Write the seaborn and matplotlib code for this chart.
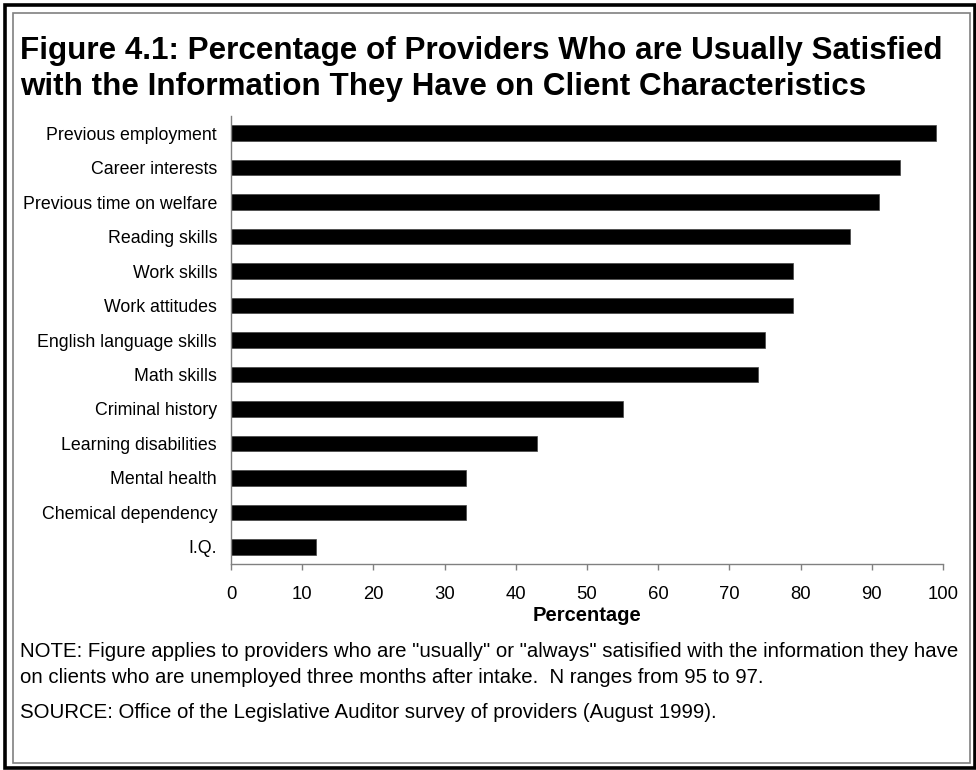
import matplotlib
matplotlib.use("Agg")
import matplotlib.pyplot as plt
import seaborn as sns
import pandas as pd
from matplotlib.patches import Rectangle

categories = [
    "Previous employment",
    "Career interests",
    "Previous time on welfare",
    "Reading skills",
    "Work skills",
    "Work attitudes",
    "English language skills",
    "Math skills",
    "Criminal history",
    "Learning disabilities",
    "Mental health",
    "Chemical dependency",
    "I.Q.",
]
values = [99, 94, 91, 87, 79, 79, 75, 74, 55, 43, 33, 33, 12]
xticks = [0, 10, 20, 30, 40, 50, 60, 70, 80, 90, 100]

title_lines = [
    "Figure 4.1: Percentage of Providers Who are Usually Satisfied",
    "with the Information They Have on Client Characteristics",
]
note_lines = [
    'NOTE: Figure applies to providers who are "usually" or "always" satisified with the information they have',
    "on clients who are unemployed three months after intake.  N ranges from 95 to 97.",
]
source_line = "SOURCE: Office of the Legislative Auditor survey of providers (August 1999)."

sns.set_style("white")
plt.rcParams["font.family"] = ["Liberation Sans", "DejaVu Sans"]
plt.rcParams["text.color"] = "black"
plt.rcParams["axes.labelcolor"] = "black"
plt.rcParams["xtick.color"] = "black"
plt.rcParams["ytick.color"] = "black"

W, H = 976, 770
fig = plt.figure(figsize=(W / 100, H / 100), dpi=100)

def fx(px):
    return px / W

def fy(py):
    return 1 - py / H

left, right, top, bottom = 231, 943, 116, 564
ax = fig.add_axes([fx(left), fy(bottom), fx(right - left), (bottom - top) / H])

df = pd.DataFrame({"category": categories, "value": values})
sns.barplot(data=df, x="value", y="category", orient="h", color="black",
            width=0.45, saturation=1, ax=ax, edgecolor="#444444", linewidth=0.5)

ax.set_xlim(0, 100)
ax.set_ylim(len(categories) - 0.5, -0.5)
ax.set_xticks(xticks)
ax.set_xticklabels([str(t) for t in xticks])
ax.set_ylabel("")
ax.set_xlabel("Percentage", fontsize=14.5, fontweight="bold", labelpad=2.5, color="black")

for side in ["top", "right"]:
    ax.spines[side].set_visible(False)
for side in ["left", "bottom"]:
    ax.spines[side].set_color("#808080")
    ax.spines[side].set_linewidth(1.0)

ax.tick_params(axis="x", direction="out", length=4.3, width=1.0, color="#808080",
               labelcolor="black", labelsize=13.3, pad=11.5, bottom=True)
ax.tick_params(axis="y", length=0, labelsize=12.8, labelcolor="black", pad=10)

# Title
fig.text(fx(20), fy(59), title_lines[0], fontsize=22.6, fontweight="bold", va="baseline", ha="left")
fig.text(fx(20), fy(95), title_lines[1], fontsize=22.6, fontweight="bold", va="baseline", ha="left")

# Notes
fig.text(fx(20), fy(657), note_lines[0], fontsize=14.7, va="baseline", ha="left")
fig.text(fx(20), fy(683), note_lines[1], fontsize=14.7, va="baseline", ha="left")
fig.text(fx(20), fy(718), source_line, fontsize=14.7, va="baseline", ha="left")

# Borders
fig.patches.append(Rectangle((fx(4.5), fy(767.5)), fx(970), (763) / H, transform=fig.transFigure,
                             fill=False, edgecolor="black", linewidth=2.6))
fig.patches.append(Rectangle((fx(12.5), fy(762.5)), fx(957), (750) / H, transform=fig.transFigure,
                             fill=False, edgecolor="#808080", linewidth=1.2))

fig.savefig("out.png", dpi=100)
